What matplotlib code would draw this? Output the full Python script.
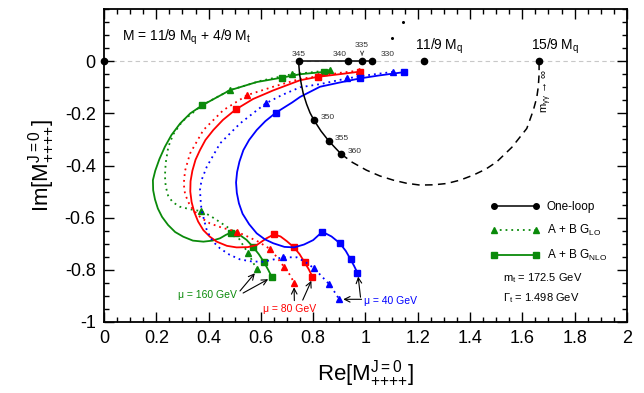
import matplotlib
matplotlib.use('Agg')
import matplotlib.pyplot as plt
from matplotlib.lines import Line2D
from matplotlib.ticker import MultipleLocator, FormatStrFormatter

plt.rcParams['font.family'] = ['Liberation Sans', 'DejaVu Sans']
plt.rcParams['mathtext.fontset'] = 'custom'
plt.rcParams['mathtext.rm'] = 'Liberation Sans'
plt.rcParams['mathtext.it'] = 'Liberation Sans:italic'

GREEN = '#0a8a0a'

# one-loop curve (solid part 345 -> 360, then dashed to m_gg -> inf)
loop_x = [0.744, 0.748, 0.755, 0.762, 0.775, 0.788, 0.803, 0.830, 0.859, 0.885, 0.907]
loop_y = [0.0, -0.05, -0.09, -0.124, -0.165, -0.198, -0.226, -0.268, -0.305, -0.333, -0.356]
dash_x = [0.907, 0.950, 1.004, 1.055, 1.106, 1.157, 1.208, 1.260, 1.311, 1.362, 1.412,
          1.460, 1.502, 1.560, 1.617, 1.642, 1.655, 1.661, 1.664, 1.664]
dash_y = [-0.356, -0.388, -0.418, -0.440, -0.456, -0.468, -0.475, -0.474, -0.469, -0.456,
          -0.437, -0.414, -0.386, -0.330, -0.258, -0.188, -0.140, -0.098, -0.050, 0.0]
flat_x = [0.744, 1.025]
flat_y = [0.0, 0.0]
loop_pts_x = [0.0, 0.744, 0.933, 0.987, 1.025, 1.222, 1.664, 0.803, 0.859, 0.907]
loop_pts_y = [0.0, 0.0, 0.0, 0.0, 0.0, 0.0, 0.0, -0.226, -0.305, -0.356]
energy_labels = ['345', '340', '335', '330', '350', '355', '360']
speck_x = [1.143, 1.101]
speck_y = [0.149, 0.088]

# mu = 160 GeV
g_nlo_x = [0.843, 0.75, 0.680, 0.584, 0.48, 0.376, 0.330, 0.291, 0.258, 0.233, 0.212, 0.196,
           0.187, 0.188, 0.195, 0.206, 0.222, 0.245, 0.272, 0.303, 0.340, 0.380, 0.415,
           0.444, 0.466, 0.484, 0.502, 0.520, 0.545, 0.569, 0.592, 0.612, 0.628, 0.641]
g_nlo_y = [-0.041, -0.050, -0.063, -0.080, -0.112, -0.169, -0.200, -0.239, -0.283, -0.328,
           -0.375, -0.420, -0.456, -0.495, -0.530, -0.565, -0.597, -0.628, -0.655, -0.673,
           -0.688, -0.692, -0.688, -0.679, -0.666, -0.658, -0.659, -0.667, -0.685, -0.711,
           -0.740, -0.771, -0.800, -0.826]
g_nlo_mx = [0.841, 0.680, 0.376, 0.484, 0.569, 0.612, 0.641]
g_nlo_my = [-0.042, -0.063, -0.169, -0.658, -0.711, -0.771, -0.826]
g_lo_x = [0.864, 0.80, 0.718, 0.60, 0.482, 0.376, 0.300, 0.265, 0.246, 0.236, 0.233, 0.236,
          0.245, 0.262, 0.290, 0.330, 0.371, 0.405, 0.431, 0.470, 0.503, 0.525, 0.552, 0.584]
g_lo_y = [-0.034, -0.042, -0.050, -0.075, -0.111, -0.168, -0.230, -0.280, -0.328, -0.390,
          -0.440, -0.480, -0.515, -0.540, -0.558, -0.568, -0.575, -0.592, -0.609, -0.635,
          -0.658, -0.695, -0.737, -0.798]
g_lo_mx = [0.864, 0.718, 0.482, 0.371, 0.503, 0.552, 0.584]
g_lo_my = [-0.034, -0.050, -0.111, -0.575, -0.658, -0.737, -0.798]

# mu = 80 GeV
r_nlo_x = [0.979, 0.90, 0.818, 0.75, 0.647, 0.570, 0.504, 0.455, 0.418, 0.388, 0.367, 0.350,
           0.338, 0.331, 0.330, 0.335, 0.345, 0.360, 0.380, 0.405, 0.431, 0.470, 0.507,
           0.550, 0.584, 0.620, 0.650, 0.675, 0.699, 0.727, 0.748, 0.767, 0.783, 0.797]
r_nlo_y = [-0.040, -0.050, -0.060, -0.073, -0.112, -0.145, -0.185, -0.225, -0.264, -0.302,
           -0.341, -0.378, -0.420, -0.460, -0.500, -0.540, -0.578, -0.615, -0.648, -0.673,
           -0.692, -0.708, -0.714, -0.713, -0.705, -0.680, -0.664, -0.672, -0.690, -0.714,
           -0.740, -0.771, -0.798, -0.826]
r_nlo_mx = [0.979, 0.818, 0.504, 0.650, 0.727, 0.767, 0.797]
r_nlo_my = [-0.040, -0.060, -0.185, -0.664, -0.714, -0.771, -0.826]
r_lo_x = [0.975, 0.90, 0.817, 0.75, 0.65, 0.548, 0.456, 0.380, 0.329, 0.310, 0.305, 0.310,
          0.325, 0.342, 0.370, 0.405, 0.450, 0.507, 0.540, 0.590, 0.635, 0.660, 0.688,
          0.710, 0.727]
r_lo_y = [-0.036, -0.045, -0.058, -0.068, -0.097, -0.130, -0.188, -0.264, -0.354, -0.420,
          -0.470, -0.510, -0.545, -0.571, -0.600, -0.622, -0.638, -0.654, -0.668, -0.692,
          -0.720, -0.750, -0.788, -0.818, -0.849]
r_lo_mx = [0.975, 0.817, 0.548, 0.507, 0.635, 0.688, 0.727]
r_lo_my = [-0.036, -0.058, -0.130, -0.654, -0.720, -0.788, -0.849]

# mu = 40 GeV
b_nlo_x = [1.147, 1.05, 0.979, 0.90, 0.826, 0.75, 0.720, 0.658, 0.617, 0.584, 0.555, 0.533,
           0.518, 0.509, 0.505, 0.508, 0.516, 0.530, 0.555, 0.584, 0.615, 0.647, 0.690,
           0.727, 0.765, 0.800, 0.835, 0.870, 0.902, 0.925, 0.943, 0.957, 0.969]
b_nlo_y = [-0.042, -0.055, -0.066, -0.082, -0.098, -0.137, -0.158, -0.197, -0.230, -0.264,
           -0.302, -0.341, -0.385, -0.425, -0.465, -0.505, -0.545, -0.585, -0.625, -0.660,
           -0.683, -0.698, -0.712, -0.714, -0.703, -0.686, -0.654, -0.672, -0.698, -0.728,
           -0.760, -0.786, -0.811]
b_nlo_mx = [1.147, 0.979, 0.658, 0.835, 0.902, 0.943, 0.969]
b_nlo_my = [-0.042, -0.066, -0.197, -0.654, -0.698, -0.760, -0.811]
b_lo_x = [1.105, 1.02, 0.929, 0.826, 0.750, 0.680, 0.618, 0.520, 0.444, 0.393, 0.373, 0.367,
          0.370, 0.373, 0.393, 0.415, 0.444, 0.480, 0.520, 0.565, 0.609, 0.650, 0.683,
          0.737, 0.770, 0.803, 0.830, 0.860, 0.880, 0.899]
b_lo_y = [-0.041, -0.052, -0.066, -0.088, -0.100, -0.130, -0.162, -0.239, -0.315, -0.405,
          -0.456, -0.494, -0.540, -0.571, -0.648, -0.690, -0.718, -0.742, -0.760, -0.768,
          -0.769, -0.760, -0.752, -0.752, -0.770, -0.794, -0.822, -0.854, -0.882, -0.912]
b_lo_mx = [1.105, 0.929, 0.618, 0.683, 0.803, 0.860, 0.899]
b_lo_my = [-0.041, -0.066, -0.162, -0.752, -0.794, -0.854, -0.912]

fig = plt.figure(figsize=(6.44, 3.93), dpi=100)
ax = fig.add_axes([0.1615, 0.1807, 0.812, 0.7963])

ax.axhline(0, color='#c8c8c8', lw=0.8, ls=(0, (4, 3)), zorder=0)

dot = (0, (1, 2.2))
curves = [
    (g_lo_x, g_lo_y, g_lo_mx, g_lo_my, g_nlo_x, g_nlo_y, g_nlo_mx, g_nlo_my, GREEN),
    (r_lo_x, r_lo_y, r_lo_mx, r_lo_my, r_nlo_x, r_nlo_y, r_nlo_mx, r_nlo_my, 'red'),
    (b_lo_x, b_lo_y, b_lo_mx, b_lo_my, b_nlo_x, b_nlo_y, b_nlo_mx, b_nlo_my, 'blue'),
]
for lx, ly, lmx, lmy, nx, ny, nmx, nmy, c in curves:
    ax.plot(lx, ly, color=c, lw=1.3, ls=dot)
    ax.plot(lmx, lmy, ls='none', marker='^', ms=5, color=c)
    ax.plot(nx, ny, color=c, lw=1.3, solid_joinstyle='round')
    ax.plot(nmx, nmy, ls='none', marker='s', ms=4, color=c)

ax.plot(loop_x, loop_y, color='black', lw=1.1)
ax.plot(dash_x, dash_y, color='black', lw=1.1, ls=(0, (5, 3.5)))
ax.plot(flat_x, flat_y, color='black', lw=1.1)
ax.plot(loop_pts_x, loop_pts_y, ls='none', marker='o', ms=4.5, color='black', clip_on=False, zorder=5)
ax.plot(speck_x, speck_y, ls='none', marker='o', ms=1.2, color='black')

# energy labels on the one-loop curve
lab_kw = dict(fontsize=6, color='#333333')
ax.text(loop_pts_x[1], 0.012, energy_labels[0], ha='center', va='bottom', **lab_kw)
ax.text(loop_pts_x[2] - 0.03, 0.012, energy_labels[1], ha='center', va='bottom', **lab_kw)
ax.annotate(energy_labels[2], xy=(loop_pts_x[3], 0.012), xytext=(loop_pts_x[3], 0.045),
            ha='center', va='bottom', arrowprops=dict(arrowstyle='->', lw=0.6, color='#333333'),
            **lab_kw)
ax.text(loop_pts_x[4] + 0.06, 0.012, energy_labels[3], ha='center', va='bottom', **lab_kw)
for px, py, s in zip(loop_pts_x[7:], loop_pts_y[7:], energy_labels[4:]):
    ax.text(px + 0.025, py + 0.01, s, ha='left', va='center', **lab_kw)

ax.text(0.069, 0.092, r'M = 11/9 M$_{\rm q}$ + 4/9 M$_{\rm t}$', fontsize=10, va='center')
ax.text(1.189, 0.056, r'11/9 M$_{\rm q}$', fontsize=10, va='center')
ax.text(1.633, 0.056, r'15/9 M$_{\rm q}$', fontsize=10, va='center')
ax.text(1.694, -0.115, r'm$_{\rm γγ}$ → ∞', fontsize=8,
        rotation=90, ha='center', va='center')

# mu labels with arrows
ax.text(0.283, -0.897, 'μ = 160 GeV', color=GREEN, fontsize=7.5, va='center')
ax.text(0.608, -0.950, 'μ = 80 GeV', color='red', fontsize=7.5, va='center')
ax.text(0.994, -0.920, 'μ = 40 GeV', color='blue', fontsize=7.5, va='center')
arrows = [((0.520, -0.881), (0.577, -0.813)), ((0.532, -0.889), (0.628, -0.836)),
          ((0.728, -0.918), (0.727, -0.867)), ((0.760, -0.916), (0.793, -0.842)),
          ((0.985, -0.913), (0.915, -0.913)), ((0.981, -0.905), (0.972, -0.826))]
for tail, tip in arrows:
    ax.annotate('', xy=tip, xytext=tail,
                arrowprops=dict(arrowstyle='->', lw=0.8, color='black', shrinkA=0, shrinkB=0))

handles = [
    Line2D([], [], color='black', lw=1.1, marker='o', ms=4),
    Line2D([], [], color=GREEN, lw=1.3, ls=dot, marker='^', ms=5),
    Line2D([], [], color=GREEN, lw=1.3, marker='s', ms=4),
]
labels = ['One-loop', r'A + B G$_{\rm LO}$', r'A + B G$_{\rm NLO}$']
ax.legend(handles, labels, loc='upper left', bbox_to_anchor=(0.718, 0.42), frameon=False,
          fontsize=8.5, numpoints=2, handlelength=4.2, handletextpad=0.6, labelspacing=0.85)

ax.text(1.526, -0.831, r'm$_{\rm t}$ = 172.5 GeV', fontsize=8, va='center')
ax.text(1.526, -0.908, r'Γ$_{\rm t}$ = 1.498 GeV', fontsize=8, va='center')

ax.set_xlim(0, 2)
ax.set_ylim(-1, 0.2)
ax.set_xticks([0, 0.2, 0.4, 0.6, 0.8, 1, 1.2, 1.4, 1.6, 1.8, 2])
ax.set_yticks([-1, -0.8, -0.6, -0.4, -0.2, 0])
ax.xaxis.set_minor_locator(MultipleLocator(0.05))
ax.yaxis.set_minor_locator(MultipleLocator(0.05))
ax.xaxis.set_major_formatter(FormatStrFormatter('%g'))
ax.yaxis.set_major_formatter(FormatStrFormatter('%g'))
ax.tick_params(which='both', direction='in', top=True, right=True, width=1.0)
ax.tick_params(which='major', length=7, labelsize=13, pad=6)
ax.tick_params(which='minor', length=3.5)
for sp in ax.spines.values():
    sp.set_linewidth(1.3)

sub = r'{+}{+}{+}{+}'
sup = r'{\rm J}{=}0'
ax.set_xlabel(r'Re[M$^{' + sup + r'}_{' + sub + r'}$]', fontsize=16, labelpad=8)
ax.set_ylabel(r'Im[M$^{' + sup + r'}_{' + sub + r'}$]', fontsize=16, labelpad=6)

fig.savefig('out.png', dpi=100)
